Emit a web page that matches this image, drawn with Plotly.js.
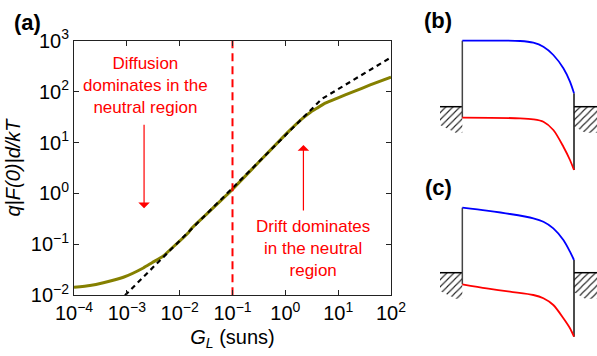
<!DOCTYPE html>
<html><head><meta charset="utf-8">
<script src="https://cdn.plot.ly/plotly-3.0.1.min.js"></script>
<style>html,body{margin:0;padding:0;background:#fff}#chart{width:597px;height:356px}</style>
</head><body><div id="chart"></div>
<script>
// ---- Panel (a) data ----
const gL = [1e-4, 2e-4, 3.6e-4, 8.6e-4, 2.05e-3, 3e-3, 4.9e-3, 7e-3, 0.0146, 0.0169, 0.03, 0.0902, 0.3, 1.146, 2.2, 3.0, 3.95, 5.68, 9.44, 19.5, 40.4, 100];
const fieldSim = [0.0144, 0.0156, 0.0177, 0.0226, 0.0344, 0.0437, 0.0592, 0.083, 0.170, 0.207, 0.365, 1.084, 3.92, 16.4, 30.8, 39.5, 47.2, 59.2, 74, 100, 135, 193];
const gAsym = [9.25e-4, 4.91, 100];
const fieldAsym = [0.01, 71.9, 470];
const gCross = 0.1;
const xTickVals = [1e-4, 1e-3, 1e-2, 1e-1, 1e0, 1e1, 1e2];
const xTickText = ['10<sup>\u22124</sup>', '10<sup>\u22123</sup>', '10<sup>\u22122</sup>', '10<sup>\u22121</sup>', '10<sup>0</sup>', '10<sup>1</sup>', '10<sup>2</sup>'];
const yTickVals = [1e-2, 1e-1, 1e0, 1e1, 1e2, 1e3];
const yTickText = ['10<sup>\u22122</sup>', '10<sup>\u22121</sup>', '10<sup>0</sup>', '10<sup>1</sup>', '10<sup>2</sup>', '10<sup>3</sup>'];

// ---- Panels (b), (c): band diagrams (position 0..1 between contacts, energy a.u.) ----
const posB = [0, 0.517, 0.636, 0.726, 0.815, 0.905, 0.964, 1.0];
const ecB = [2.686, 2.68, 2.646, 2.566, 2.4, 2.134, 1.866, 1.634];
const evB = [1.146, 1.134, 1.114, 1.066, 0.9, 0.566, 0.3, 0.1];
const contactB = 1.366;
const posC = [0, 0.218, 0.427, 0.636, 0.726, 0.815, 0.905, 0.964, 1.0];
const ecC = [2.746, 2.686, 2.62, 2.534, 2.466, 2.334, 2.1, 1.866, 1.7];
const evC = [1.214, 1.134, 1.066, 1.0, 0.934, 0.8, 0.534, 0.334, 0.166];
const contactC = 1.446;
const hatchDepth = 0.52;
const padL = -0.2, padR = 1.206;

const W = 597, H = 356;
const traces = [];
traces.push({x: gL, y: fieldSim, mode: 'lines', line: {color: '#858000', width: 3, shape: 'spline', smoothing: 0.5}, hoverinfo: 'skip', xaxis: 'x', yaxis: 'y'});
traces.push({x: gAsym, y: fieldAsym, mode: 'lines', line: {color: '#000', width: 2.2, dash: '5px,4px'}, hoverinfo: 'skip', xaxis: 'x', yaxis: 'y'});
traces.push({x: [gCross, gCross], y: [1e-2, 1e3], mode: 'lines', line: {color: '#ff0000', width: 2, dash: '8px,5px'}, hoverinfo: 'skip', xaxis: 'x', yaxis: 'y'});

function band(pos, ec, ev, level, xa, ya) {
  const hatchL = {x: [padL, 0, 0, -0.06, padL], y: [level, level, level - hatchDepth, level - hatchDepth, level - hatchDepth * 0.7]};
  const hatchR = {x: [1, padR, padR, 1.1, 1], y: [level, level, level - hatchDepth, level - hatchDepth, level - hatchDepth * 0.75]};
  [hatchL, hatchR].forEach(h => traces.push({x: h.x, y: h.y, mode: 'none', fill: 'toself', fillcolor: 'rgba(0,0,0,0)',
    fillpattern: {shape: '/', fgcolor: '#222', bgcolor: 'rgba(255,255,255,0)', size: 5, solidity: 0.22}, hoverinfo: 'skip', xaxis: xa, yaxis: ya}));
  traces.push({x: [padL, 0], y: [level, level], mode: 'lines', line: {color: '#000', width: 1.5}, hoverinfo: 'skip', xaxis: xa, yaxis: ya});
  traces.push({x: [1, padR], y: [level, level], mode: 'lines', line: {color: '#000', width: 1.5}, hoverinfo: 'skip', xaxis: xa, yaxis: ya});
  traces.push({x: [0, 0], y: [ec[0], ev[0]], mode: 'lines', line: {color: '#444', width: 1.5}, hoverinfo: 'skip', xaxis: xa, yaxis: ya});
  traces.push({x: [1, 1], y: [ec[ec.length - 1], ev[ev.length - 1]], mode: 'lines', line: {color: '#111', width: 1.5}, hoverinfo: 'skip', xaxis: xa, yaxis: ya});
  traces.push({x: pos, y: ec, mode: 'lines', line: {color: '#0000ff', width: 1.8, shape: 'spline', smoothing: 0.8}, hoverinfo: 'skip', xaxis: xa, yaxis: ya});
  traces.push({x: pos, y: ev, mode: 'lines', line: {color: '#ff0000', width: 1.8, shape: 'spline', smoothing: 0.8}, hoverinfo: 'skip', xaxis: xa, yaxis: ya});
}
band(posB, ecB, evB, contactB, 'x2', 'y2');
band(posC, ecC, evC, contactC, 'x3', 'y3');

const fnt = 'Arial, "Liberation Sans", Helvetica, sans-serif';
const hidden = {visible: false, showgrid: false, zeroline: false, fixedrange: true};
const layout = {
  width: W, height: H,
  margin: {l: 0, r: 0, t: 0, b: 0},
  paper_bgcolor: '#fff', plot_bgcolor: 'rgba(0,0,0,0)',
  showlegend: false,
  font: {family: fnt, color: '#000'},
  xaxis: {type: 'log', domain: [74 / W, 391 / W], range: [-4, 2], tickvals: xTickVals, ticktext: xTickText,
    ticks: 'inside', ticklen: 5, tickcolor: '#222', mirror: 'ticks', showline: true, linecolor: '#222', linewidth: 1,
    showgrid: false, zeroline: false, tickfont: {size: 20, family: fnt},
    title: {text: '<i>G<sub>L</sub></i> (suns)', font: {size: 20, family: fnt}, standoff: 6}},
  yaxis: {type: 'log', domain: [60.7 / H, 315.3 / H], range: [-2, 3], tickvals: yTickVals, ticktext: yTickText,
    ticks: 'inside', ticklen: 5, tickcolor: '#222', mirror: 'ticks', showline: true, linecolor: '#222', linewidth: 1,
    showgrid: false, zeroline: false, tickfont: {size: 20, family: fnt},
    title: {text: '<i>q|F(0)|d/kT</i>', font: {size: 20, family: fnt}, standoff: 4}},
  xaxis2: Object.assign({domain: [440 / W, 1], range: [padL, padR], anchor: 'y2'}, hidden),
  yaxis2: Object.assign({domain: [(H - 175) / H, (H - 35) / H], range: [0, 2.8], anchor: 'x2'}, hidden),
  xaxis3: Object.assign({domain: [440 / W, 1], range: [padL, padR], anchor: 'y3'}, hidden),
  yaxis3: Object.assign({domain: [(H - 345) / H, (H - 195) / H], range: [0, 3], anchor: 'x3'}, hidden),
  annotations: [
    {xref: 'x', yref: 'y', x: Math.log10(2.12e-3), y: Math.log10(0.51), ax: 0, ay: -85, showarrow: true, arrowhead: 1, arrowsize: 1.6, arrowwidth: 1.2, arrowcolor: '#ff0000', text: ''},
    {xref: 'x', yref: 'y', x: Math.log10(2.2), y: 0.953, ax: 0, ay: 67, showarrow: true, arrowhead: 1, arrowsize: 1.6, arrowwidth: 1.2, arrowcolor: '#ff0000', text: ''},
    {xref: 'x', yref: 'y', x: -2.655, y: 2.126, xanchor: 'center', yanchor: 'middle', showarrow: false, text: 'Diffusion<br>dominates in the<br>neutral region', font: {size: 17, color: '#ff0000', family: fnt}, align: 'center'},
    {xref: 'x', yref: 'y', x: 0.532, y: -1.077, xanchor: 'center', yanchor: 'middle', showarrow: false, text: 'Drift dominates<br>in the neutral<br>region', font: {size: 17, color: '#ff0000', family: fnt}, align: 'center'},
    {xref: 'paper', yref: 'paper', x: 27 / W, y: 1 - 23 / H, xanchor: 'center', yanchor: 'middle', showarrow: false, text: '<b>(a)</b>', font: {size: 22, family: fnt}},
    {xref: 'paper', yref: 'paper', x: 438 / W, y: 1 - 21 / H, xanchor: 'center', yanchor: 'middle', showarrow: false, text: '<b>(b)</b>', font: {size: 22, family: fnt}},
    {xref: 'paper', yref: 'paper', x: 438 / W, y: 1 - 188 / H, xanchor: 'center', yanchor: 'middle', showarrow: false, text: '<b>(c)</b>', font: {size: 22, family: fnt}}
  ]
};
Plotly.newPlot('chart', traces, layout, {staticPlot: true, displayModeBar: false});
</script></body></html>
